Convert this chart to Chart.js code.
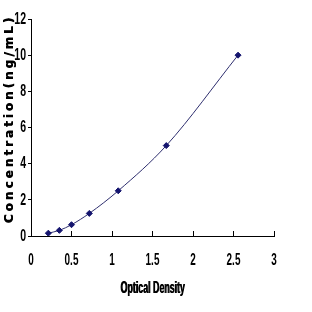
<!DOCTYPE html>
<html>
<head>
<meta charset="utf-8">
<script src="https://cdn.jsdelivr.net/npm/chart.js@4"></script>
<style>
  html, body { margin: 0; padding: 0; background: #fff; }
</style>
</head>
<body>
<canvas id="curve" width="312" height="312"></canvas>
<script>
// standard curve readings
const opticalDensity = [0.214, 0.35, 0.50, 0.72, 1.077, 1.67, 2.556];
const concentration  = [0.156, 0.312, 0.625, 1.25, 2.5, 5, 10];
const xTicks = [0, 0.5, 1, 1.5, 2, 2.5, 3];
const yTicks = [0, 2, 4, 6, 8, 10, 12];

const navy = '#14146e';
const arial = "'Liberation Sans', Arial, sans-serif";

// the reference uses a very condensed heavy face; squeeze text horizontally
// around each text anchor (chart.js rotates every label right after translating it)
function squeeze(chart, fn, k, opts = {}) {
  const ctx = chart.ctx;
  const rot = ctx.rotate;
  ctx.save();
  if (opts.spacing) ctx.letterSpacing = opts.spacing;
  if (opts.shiftY) ctx.translate(0, opts.shiftY);
  ctx.rotate = function(a) { rot.call(this, a); if (k !== 1) this.scale(k, 1); };
  try {
    fn();
    if (opts.heavy) { ctx.translate(opts.heavy[0], opts.heavy[1]); fn(); }
  } finally { ctx.rotate = rot; ctx.restore(); }
}

const textStyle = {
  id: 'textStyle',
  beforeDraw(chart) {
    const { x, y } = chart.scales;
    if (x._styled) return;
    const xl = x.drawLabels.bind(x), xt = x.drawTitle.bind(x);
    const yl = y.drawLabels.bind(y), yt = y.drawTitle.bind(y);
    x.drawLabels = () => squeeze(chart, xl, 0.62);
    x.drawTitle = () => squeeze(chart, xt, 0.52, { heavy: [0.6, 0] });
    y.drawLabels = () => squeeze(chart, yl, 0.62);
    y.drawTitle = () => squeeze(chart, yt, 1, { spacing: '3px', shiftY: -9, heavy: [0, 0.5] });
    x._styled = true;
  }
};

new Chart(document.getElementById('curve'), {
  type: 'scatter',
  data: {
    datasets: [{
      data: opticalDensity.map((v, i) => ({ x: v, y: concentration[i] })),
      showLine: true,
      borderColor: '#2e2e6e',
      borderWidth: 1,
      cubicInterpolationMode: 'monotone',
      pointStyle: 'rectRot',
      pointRadius: 3,
      pointBackgroundColor: navy,
      pointBorderColor: navy,
      pointBorderWidth: 1,
    }],
  },
  options: {
    responsive: false,
    animation: false,
    events: [],
    layout: { padding: { top: 19, right: 38, bottom: 0, left: 0 } },
    plugins: { legend: { display: false }, tooltip: { enabled: false } },
    scales: {
      x: {
        type: 'linear',
        min: 0, max: 3,
        afterBuildTicks: s => { s.ticks = xTicks.map(v => ({ value: v })); },
        afterFit: s => { s.height = 76; },
        border: { color: '#000', width: 1 },
        grid: { drawOnChartArea: false, color: '#000', tickLength: -5 },
        ticks: {
          color: '#000', padding: 20, maxRotation: 0,
          font: { family: arial, size: 16, weight: 'bold' },
          callback: v => String(v),
        },
        title: {
          display: true,
          text: 'Optical Density',
          color: '#000',
          font: { family: arial, size: 17, weight: 'bold' },
          padding: { top: 0, bottom: 13 },
        },
      },
      y: {
        min: 0, max: 12,
        afterBuildTicks: s => { s.ticks = yTicks.map(v => ({ value: v })); },
        afterFit: s => { s.width = 31; },
        border: { color: '#000', width: 1 },
        grid: { drawOnChartArea: false, color: '#000', tickLength: 3 },
        ticks: {
          color: '#000', padding: 2,
          font: { family: arial, size: 17, weight: 'bold' },
          callback: v => String(v),
        },
        title: {
          display: true,
          text: 'Concentration(ng/mL)',
          color: '#000',
          font: { family: "'DejaVu Sans', sans-serif", size: 12, weight: 'bold' },
          padding: { top: 3, bottom: 0 },
        },
      },
    },
  },
  plugins: [textStyle],
});
</script>
</body>
</html>
